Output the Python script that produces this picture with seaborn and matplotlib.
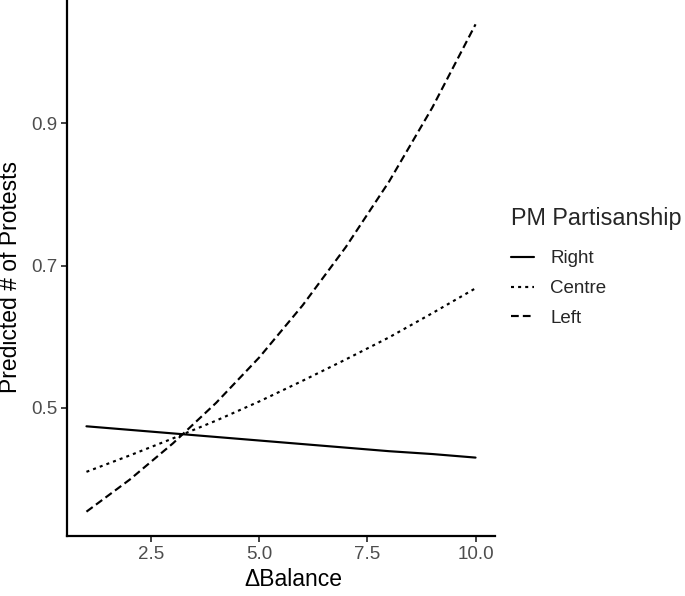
import numpy as np
import pandas as pd
import matplotlib
matplotlib.use("Agg")
import matplotlib.pyplot as plt
import seaborn as sns

# ---- data ----
balance = [1, 2, 3, 4, 5, 6, 7, 8, 9, 10]
right = [0.474, 0.469, 0.464, 0.459, 0.454, 0.449, 0.444, 0.439, 0.435, 0.430]
centre = [0.410, 0.433, 0.457, 0.482, 0.509, 0.538, 0.568, 0.599, 0.633, 0.668]
left = [0.354, 0.399, 0.450, 0.507, 0.571, 0.644, 0.726, 0.818, 0.922, 1.039]
groups = ["Right", "Centre", "Left"]
x_ticks = [2.5, 5.0, 7.5, 10.0]
y_ticks = [0.5, 0.7, 0.9]

df = pd.DataFrame({
    "Balance": balance * 3,
    "Predicted": right + centre + left,
    "PM Partisanship": np.repeat(groups, len(balance)),
})

sns.set_theme(style="white")
plt.rcParams["font.family"] = ["Liberation Sans", "DejaVu Sans"]

fig = plt.figure(figsize=(6.85, 5.96), dpi=100)
ax = fig.add_axes([67 / 685, 1 - 536 / 596, (495 - 67) / 685, 536 / 596])

dash_map = {"Right": "", "Centre": (1.4, 1.9), "Left": (3.6, 1.9)}
sns.lineplot(data=df, x="Balance", y="Predicted", style="PM Partisanship",
             style_order=groups, dashes=dash_map, color="black",
             linewidth=1.55, ax=ax, legend=True)

handles, labels = ax.get_legend_handles_labels()
ax.get_legend().remove()
for h in handles:
    h.set_color("black")
    h.set_linewidth(1.55)

ax.set_xlim(0.55, 10.45)
ax.set_ylim(0.3198, 1.0732)
ax.set_xticks(x_ticks)
ax.set_xticklabels([f"{v:.1f}" for v in x_ticks])
ax.set_yticks(y_ticks)
ax.set_yticklabels([f"{v:.1f}" for v in y_ticks])

for s in ["top", "right"]:
    ax.spines[s].set_visible(False)
for s in ["left", "bottom"]:
    ax.spines[s].set_color("black")
    ax.spines[s].set_linewidth(1.6)

ax.tick_params(axis="both", which="major", direction="out", length=4.5,
               width=1.3, color="#333333", labelsize=13.5,
               labelcolor="#4D4D4D", pad=2.5, bottom=True, left=True)

ax.set_xlabel("\u0394Balance", fontsize=16.5, color="black")
ax.set_ylabel("Predicted # of Protests", fontsize=16.5, color="black")
ax.xaxis.set_label_coords((293 - 67) / 428, -(568 - 536) / 536)
ax.yaxis.set_label_coords(-(67 - 22) / 428, 1 - 277 / 536)

leg = fig.legend(handles, labels, title="PM Partisanship",
                 loc="upper left", bbox_to_anchor=(496 / 685, 1 - 192 / 596),
                 frameon=False, fontsize=13.5, title_fontsize=16.8,
                 handlelength=1.25, handletextpad=0.85, labelspacing=0.68,
                 borderpad=0.3, alignment="left")
leg._legend_box.sep = 14.5

fig.savefig("out.png", dpi=100)
